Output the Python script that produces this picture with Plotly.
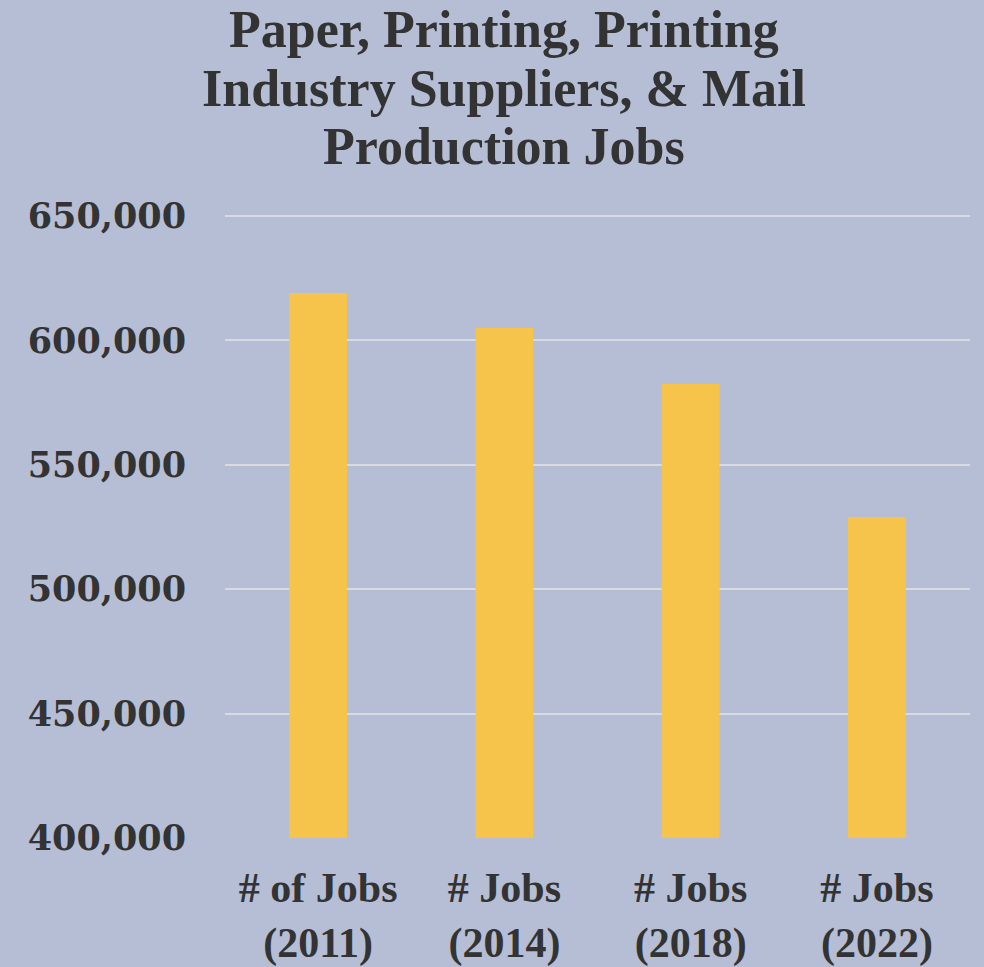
import plotly.graph_objects as go

# Job counts by survey year
categories = ["# of Jobs<br>(2011)", "# Jobs<br>(2014)", "# Jobs<br>(2018)", "# Jobs<br>(2022)"]
jobs = [619000, 605000, 582500, 529000]
y_ticks = [400000, 450000, 500000, 550000, 600000, 650000]
y_tick_labels = ["400,000", "450,000", "500,000", "550,000", "600,000", "650,000"]
title_lines = ["Paper, Printing, Printing", "Industry Suppliers, & Mail", "Production Jobs"]

BG = "#b5bed4"
BAR = "#f6c44a"
TEXT = "#333333"
GRID = "#d9dbe2"

W, H = 984, 967
M_L, M_R, M_T, M_B = 225, 14, 214, 129
plot_h = H - M_T - M_B
plot_w = W - M_L - M_R


def px_to_paper_y(py):
    return (H - M_B - py) / plot_h


def px_to_paper_x(px):
    return (px - M_L) / plot_w


fig = go.Figure(
    go.Bar(
        x=categories,
        y=jobs,
        marker=dict(color=BAR, line=dict(width=0)),
        width=0.31,
    )
)

# three-line heading with tight line spacing
for line, cy in zip(title_lines, [30, 88, 147]):
    fig.add_annotation(
        text=line,
        xref="paper",
        yref="paper",
        x=px_to_paper_x(504),
        y=px_to_paper_y(cy),
        xanchor="center",
        yanchor="middle",
        showarrow=False,
        font=dict(family="Liberation Serif", size=52, color=TEXT, weight="bold"),
    )

fig.update_layout(
    width=W,
    height=H,
    paper_bgcolor=BG,
    plot_bgcolor=BG,
    showlegend=False,
    margin=dict(l=M_L, r=M_R, t=M_T, b=M_B, autoexpand=False),
    xaxis=dict(
        showgrid=False,
        showline=False,
        zeroline=False,
        ticks="",
        automargin=False,
        tickfont=dict(family="Liberation Serif", size=42, color=TEXT, weight="bold"),
        ticklabelstandoff=21,
    ),
    yaxis=dict(
        range=[400000, 650800],
        tickvals=y_ticks,
        ticktext=y_tick_labels,
        showgrid=True,
        gridcolor=GRID,
        gridwidth=2,
        zeroline=False,
        showline=False,
        ticks="",
        automargin=False,
        tickfont=dict(family="DejaVu Serif", size=35, color=TEXT, weight="bold"),
        ticklabelstandoff=38,
    ),
)

fig.write_html("out.html")
